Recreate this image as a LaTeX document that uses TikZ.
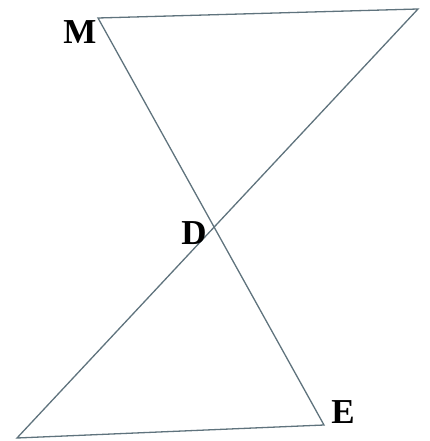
\documentclass[tikz,border=0pt]{standalone}
\usepackage{fontspec}
\setmainfont{Liberation Serif}
\definecolor{linecol}{RGB}{95,115,125}
\begin{document}
\begin{tikzpicture}[x=1pt,y=-1pt,
  seg/.style={draw=linecol,line width=1.3pt},
  lab/.style={font=\fontsize{35}{35}\selectfont\bfseries,inner sep=0pt}]
\useasboundingbox (0,0) rectangle (430,441);
\coordinate (M) at (98,18);
\coordinate (T) at (418,9);
\coordinate (B) at (17,438);
\coordinate (E) at (324,425);
\path[seg] (M) -- (T) -- (B) -- (E) -- cycle;
\node[lab] (m) at (80,32) {M};
\node[lab] (d) at (194,233) {D};
\node[lab] (e) at (343,412) {E};
\end{tikzpicture}
\end{document}
